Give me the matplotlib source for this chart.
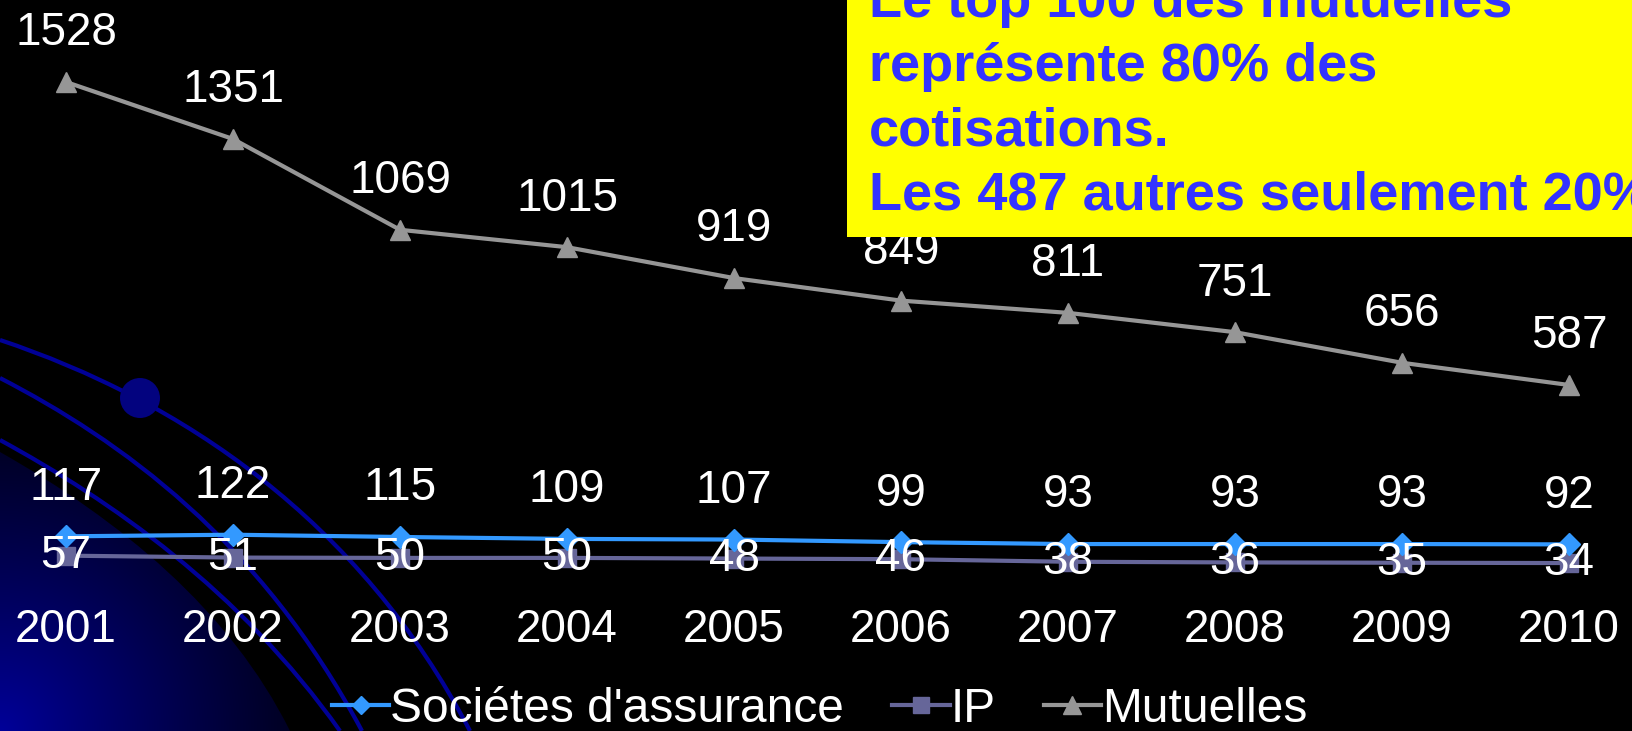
import numpy as np
import matplotlib
matplotlib.use("Agg")
import matplotlib.pyplot as plt
from matplotlib.path import Path
from matplotlib.patches import PathPatch, Circle, Rectangle

# données
annees = ['2001', '2002', '2003', '2004', '2005', '2006', '2007', '2008', '2009', '2010']
societes = [117, 122, 115, 109, 107, 99, 93, 93, 93, 92]
ip = [57, 51, 50, 50, 48, 46, 38, 36, 35, 34]
mutuelles = [1528, 1351, 1069, 1015, 919, 849, 811, 751, 656, 587]

encadre = ["Le top 100 des mutuelles",
           "représente 80% des",
           "cotisations.",
           "Les 487 autres seulement 20%"]

plt.rcParams['font.family'] = ['Liberation Sans', 'DejaVu Sans']

W, H = 1633, 731
fig = plt.figure(figsize=(W / 100, H / 100), dpi=100, facecolor='black')

# fond du diaporama : dégradé bleu et arcs
bg = fig.add_axes([0, 0, 1, 1])
bg.set_xlim(0, W)
bg.set_ylim(H, 0)
bg.axis('off')
bg.set_facecolor('black')

yy, xx = np.mgrid[0:H, 0:W]
d = np.sqrt(xx ** 2 + (H - yy) ** 2)
k = np.clip(1 - d / 430, 0, 1) ** 1.3
img = np.zeros((H, W, 3))
img[..., 2] = 0.6 * k
im = bg.imshow(img, extent=(0, W, H, 0), zorder=0)
clip = Path([(0, 452), (120, 520), (230, 610), (290, H), (0, H), (0, 452)],
            [Path.MOVETO, Path.CURVE4, Path.CURVE4, Path.CURVE4, Path.LINETO, Path.CLOSEPOLY])
clip_patch = PathPatch(clip, transform=bg.transData, fc='none', ec='none')
bg.add_patch(clip_patch)
im.set_clip_path(clip_patch)

arcs = [
    [(0, 340), (180, 400), (360, 520), (470, H)],
    [(0, 378), (120, 440), (260, 540), (362, H)],
    [(0, 440), (110, 500), (240, 590), (340, H)],
]
for pts in arcs:
    p = Path(pts, [Path.MOVETO, Path.CURVE4, Path.CURVE4, Path.CURVE4])
    bg.add_patch(PathPatch(p, fc='none', ec='#000096', lw=3, zorder=1))
bg.add_patch(Circle((140, 398), 20, fc='#03037f', ec='none', zorder=2))

# graphique
ax = fig.add_axes([0, 0, 1, 1])
ax.set_facecolor('none')
ax.axis('off')
x = np.arange(len(annees))
ax.set_xlim(-66 / 167, (W - 66) / 167)
ax.set_ylim(-157 / 0.322, 574 / 0.322)

ax.plot(x, societes, color='#3399FF', lw=3, marker='D', ms=11, label="Sociétes d'assurance", zorder=3)
ax.plot(x, ip, color='#666699', lw=3, marker='s', ms=13, label='IP', zorder=2)
ax.plot(x, mutuelles, color='#969696', lw=3, marker='^', ms=15, label='Mutuelles', zorder=3)

fs = 33
for i in x:
    ax.annotate(str(mutuelles[i]), (i, mutuelles[i]), xytext=(0, 35), textcoords='offset points',
                ha='center', va='center', color='white', fontsize=fs)
    ax.annotate(str(societes[i]), (i, societes[i]), xytext=(0, 35), textcoords='offset points',
                ha='center', va='center', color='white', fontsize=fs)
    ax.annotate(str(ip[i]), (i, ip[i]), xytext=(0, 0), textcoords='offset points',
                ha='center', va='center', color='white', fontsize=fs, zorder=5)
    ax.annotate(annees[i], (i, 0), xytext=(0, -40), textcoords='offset points',
                ha='center', va='center', color='white', fontsize=fs)

leg = ax.legend(loc='center', bbox_to_anchor=(0.502, 0.03), ncol=3, frameon=False,
                fontsize=34.5, handlelength=1.2, handletextpad=0.02, columnspacing=1.0,
                markerscale=0.85)
for t in leg.get_texts():
    t.set_color('white')

# encadré jaune
fig.patches.append(Rectangle((847 / W, 1 - 237 / H), 1, 1, transform=fig.transFigure,
                             fc='#FFFF00', ec='none', zorder=10))
bases = [17, 81, 145, 209]
for ligne, b in zip(encadre, bases):
    fig.text(869 / W, 1 - b / H, ligne, ha='left', va='baseline', color='#3333FF',
             fontsize=39, fontweight='bold', zorder=11)

fig.savefig('out.png', dpi=100, facecolor='black')
